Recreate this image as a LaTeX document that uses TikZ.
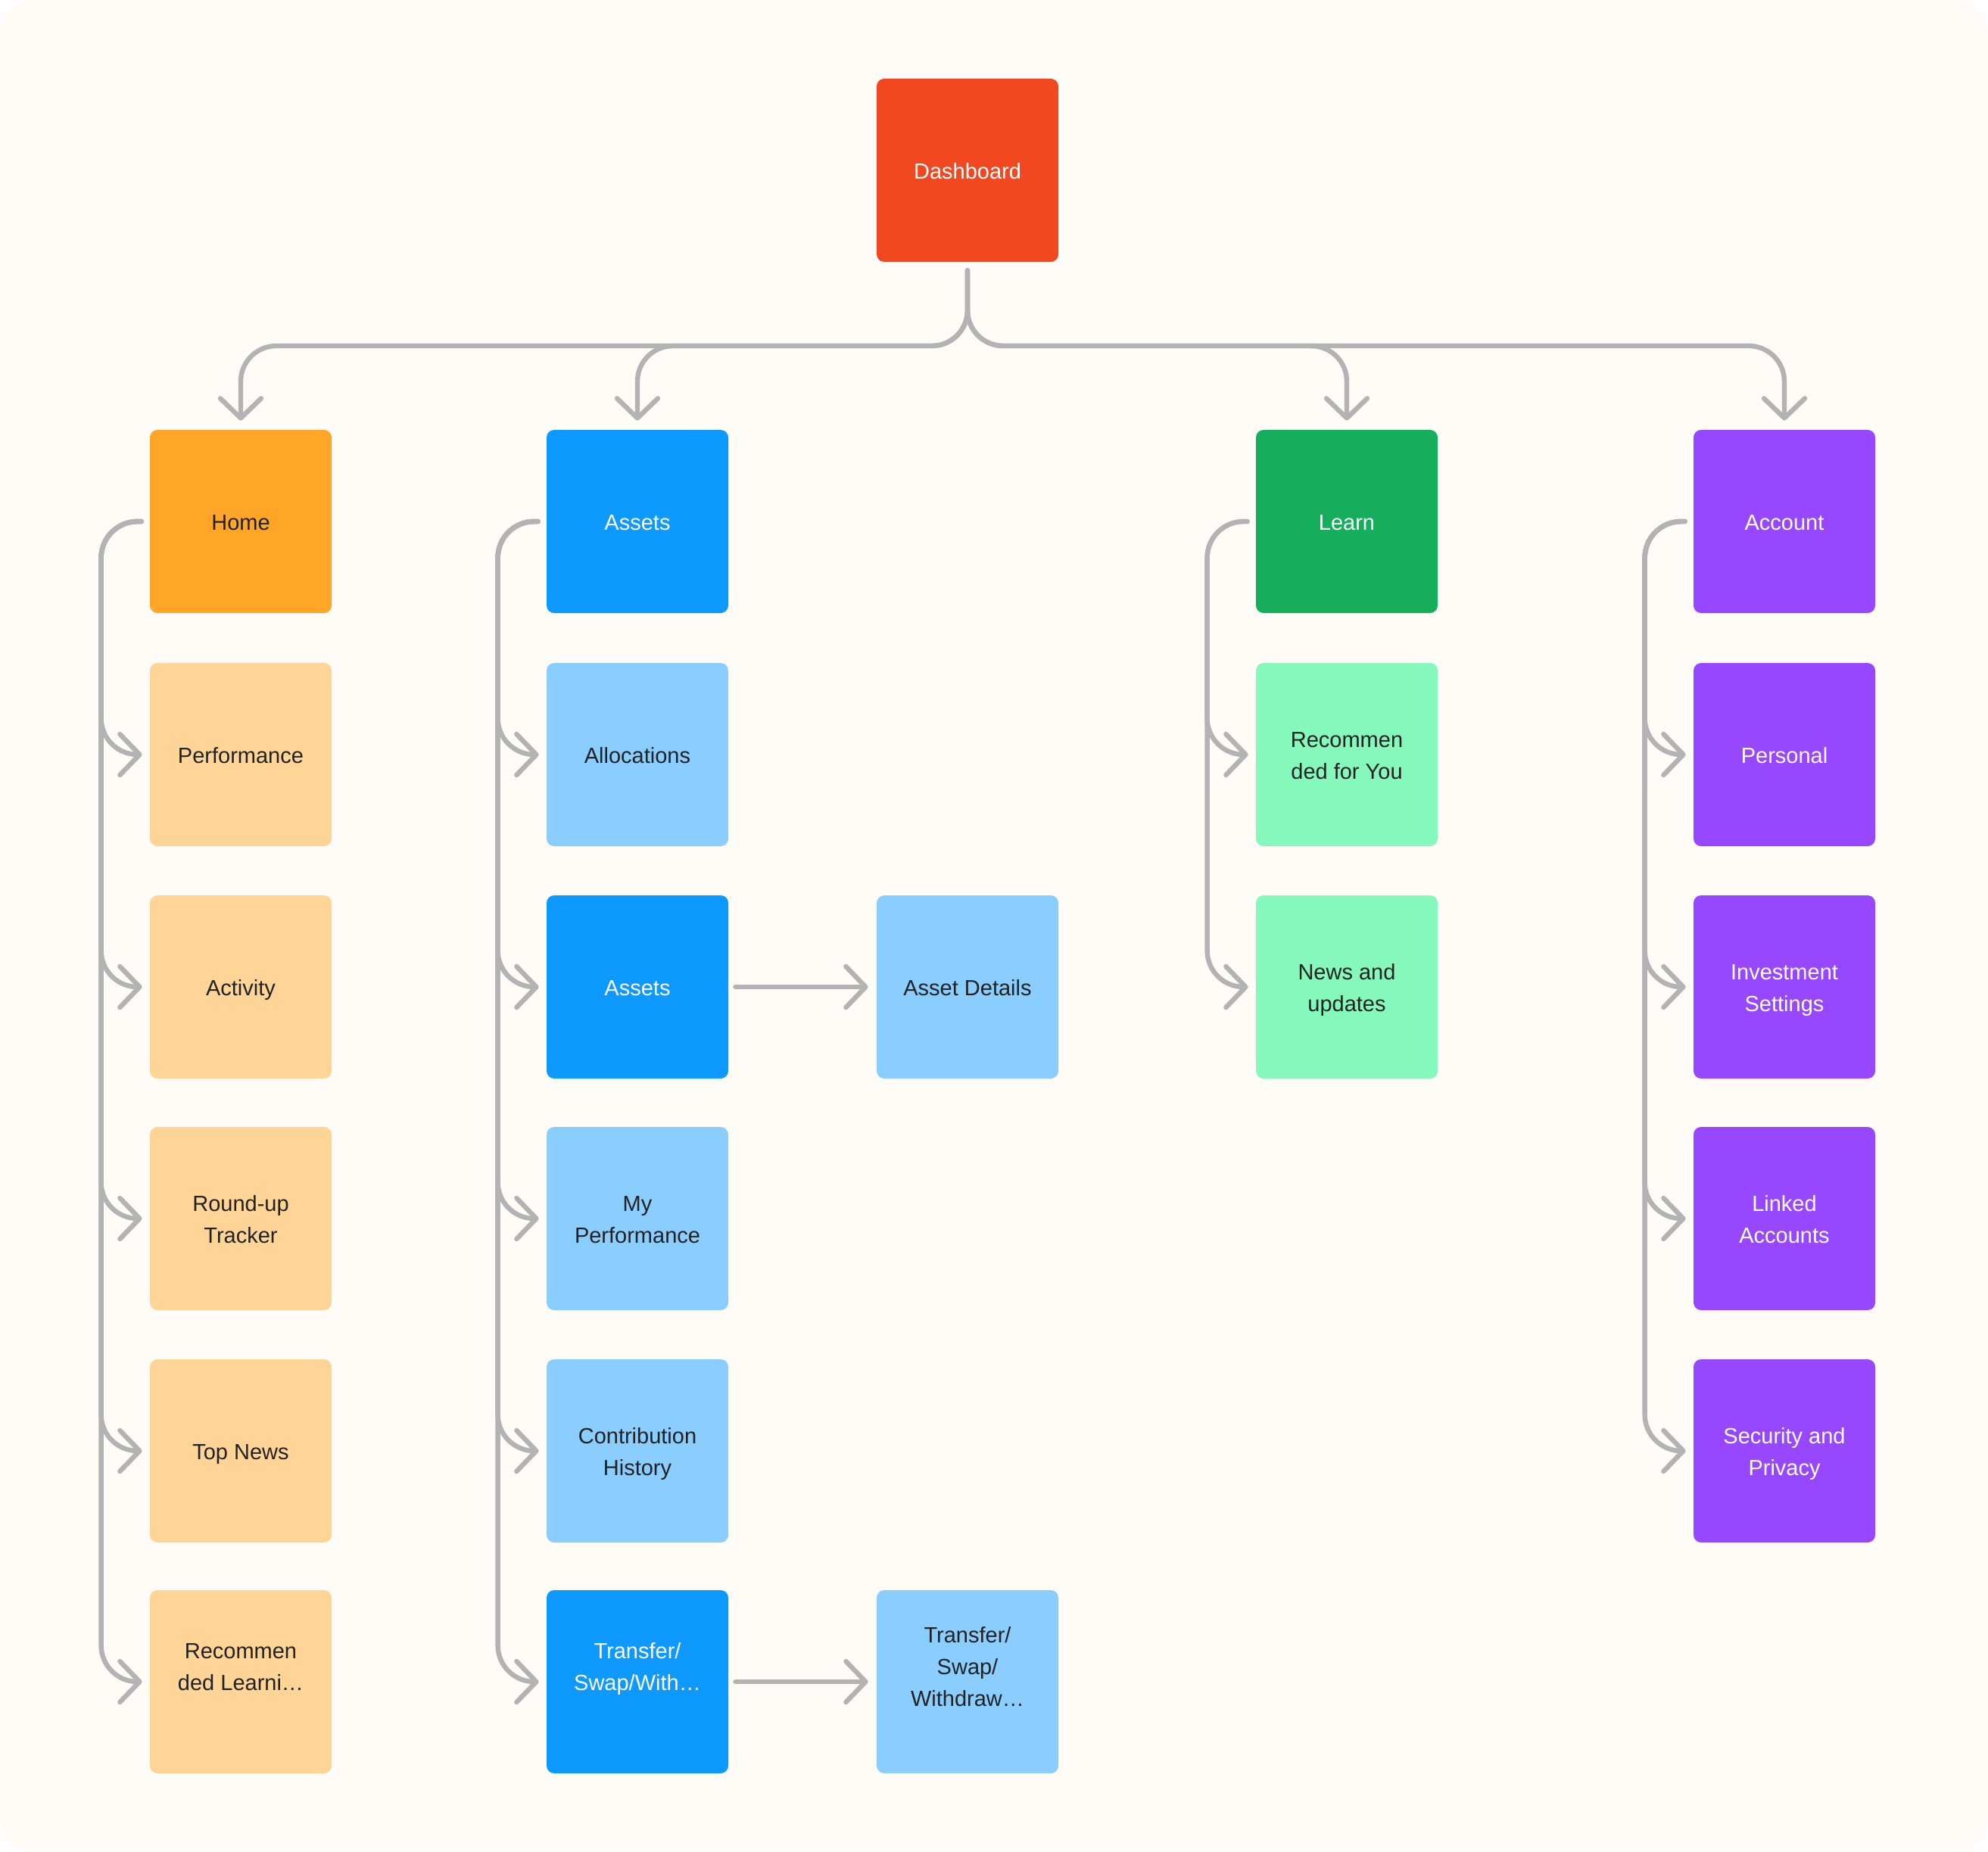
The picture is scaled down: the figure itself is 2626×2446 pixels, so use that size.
\documentclass[tikz,border=0pt]{standalone}
\usepackage{fontspec}
\setmainfont{Liberation Sans}
\usetikzlibrary{arrows.meta}
\definecolor{bg}{HTML}{FFFCF7}
\definecolor{linegray}{HTML}{B3B3B3}
\definecolor{txtdark}{HTML}{222222}
\definecolor{cred}{HTML}{F24822}
\definecolor{corange}{HTML}{FFA629}
\definecolor{clorange}{HTML}{FFD597}
\definecolor{cblue}{HTML}{0D99FF}
\definecolor{clblue}{HTML}{8ACDFF}
\definecolor{cgreen}{HTML}{14AE5C}
\definecolor{clgreen}{HTML}{85F8BC}
\definecolor{cpurple}{HTML}{9747FF}
\newcommand\boxtxt[1]{\raisebox{-1.7pt}[\height][\depth]{\begin{tabular}{@{}c@{}}#1\end{tabular}}}
\begin{document}
\begin{tikzpicture}[x=0.5pt,y=-0.5pt,
  box/.style={rectangle, rounded corners=5pt, minimum width=120pt, minimum height=121pt,
    inner sep=0pt, font=\fontsize{14.5pt}{21pt}\selectfont},
  darkbox/.style={box, fill=#1, text=white},
  lightbox/.style={box, fill=#1, text=txtdark},
  arr/.style={draw=linegray, line width=3.2pt, line cap=round, line join=round,
    -{Straight Barb[length=13pt, width=27pt, round]}},
  topconn/.style={arr, rounded corners=23.5pt},
  sideconn/.style={arr, rounded corners=24pt}]
\useasboundingbox (0,0) rectangle (2626,2446);
\fill[bg, rounded corners=22pt] (0,0) rectangle (2626,2446);

% nodes
\node[darkbox=cred] (dash) at (1278,225) {\boxtxt{Dashboard}};

\node[lightbox=corange] (home) at (318,689) {\boxtxt{Home}};
\node[lightbox=clorange] (perf) at (318,997) {\boxtxt{Performance}};
\node[lightbox=clorange] (activity) at (318,1304) {\boxtxt{Activity}};
\node[lightbox=clorange] (roundup) at (318,1610) {\boxtxt{Round-up\\Tracker}};
\node[lightbox=clorange] (topnews) at (318,1917) {\boxtxt{Top News}};
\node[lightbox=clorange] (reclearn) at (318,2222) {\boxtxt{Recommen\\ded Learni…\\{}}};

\node[darkbox=cblue] (assets) at (842,689) {\boxtxt{Assets}};
\node[lightbox=clblue] (alloc) at (842,997) {\boxtxt{Allocations}};
\node[darkbox=cblue] (assets2) at (842,1304) {\boxtxt{Assets}};
\node[lightbox=clblue] (details) at (1278,1304) {\boxtxt{Asset Details}};
\node[lightbox=clblue] (myperf) at (842,1610) {\boxtxt{My\\Performance}};
\node[lightbox=clblue] (contrib) at (842,1917) {\boxtxt{Contribution\\History}};
\node[darkbox=cblue] (transfer) at (842,2222) {\boxtxt{Transfer/\\Swap/With…\\{}}};
\node[lightbox=clblue] (transfer2) at (1278,2222) {\boxtxt{Transfer/\\Swap/\\Withdraw…\\{}}};

\node[darkbox=cgreen] (learn) at (1779,689) {\boxtxt{Learn}};
\node[lightbox=clgreen] (recyou) at (1779,997) {\boxtxt{Recommen\\ded for You}};
\node[lightbox=clgreen] (news) at (1779,1304) {\boxtxt{News and\\updates}};

\node[darkbox=cpurple] (account) at (2357,689) {\boxtxt{Account}};
\node[darkbox=cpurple] (personal) at (2357,997) {\boxtxt{Personal}};
\node[darkbox=cpurple] (invest) at (2357,1304) {\boxtxt{Investment\\Settings}};
\node[darkbox=cpurple] (linked) at (2357,1610) {\boxtxt{Linked\\Accounts}};
\node[darkbox=cpurple] (security) at (2357,1917) {\boxtxt{Security and\\Privacy}};

\coordinate (hl) at (1278,457);

% top-level connectors
\foreach \t in {home,assets,learn,account}
  \draw[topconn] ([yshift=-5.5pt]dash.south) |- (\t.north |- hl) -- ([yshift=6pt]\t.north);

% side connectors
\foreach \p/\c in {home/perf,home/activity,home/roundup,home/topnews,home/reclearn,
                   assets/alloc,assets/assets2,assets/myperf,assets/contrib,assets/transfer,
                   learn/recyou,learn/news,
                   account/personal,account/invest,account/linked,account/security}
  \draw[sideconn] ([xshift=-5.5pt]\p.west) -| ([xshift=-32pt]\p.west |- \c.west) -- ([xshift=-5pt]\c.west);

% horizontal connectors
\draw[arr] ([xshift=4.5pt]assets2.east) -- ([xshift=-5.5pt]details.west);
\draw[arr] ([xshift=4.5pt]transfer.east) -- ([xshift=-5.5pt]transfer2.west);
\end{tikzpicture}
\end{document}
